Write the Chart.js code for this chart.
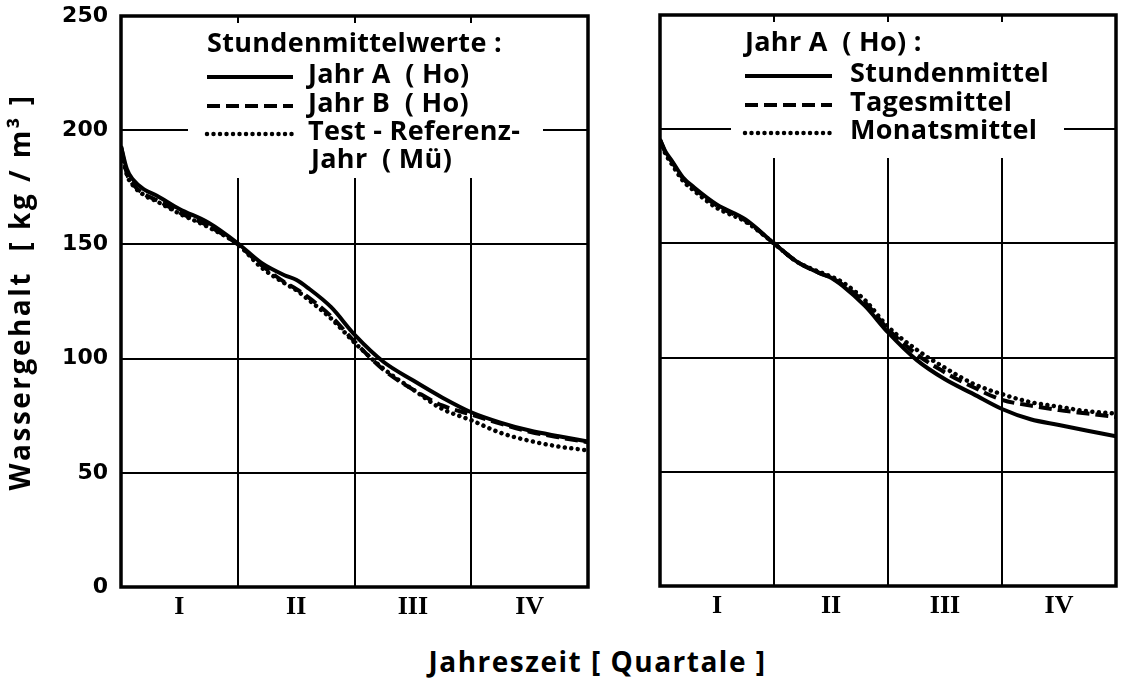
<!DOCTYPE html>
<html>
<head>
<meta charset="utf-8">
<script src="https://cdn.jsdelivr.net/npm/chart.js@4"></script>
<style>
  html, body { margin: 0; padding: 0; background: #fff; }
  body { width: 1121px; height: 679px; position: relative; overflow: hidden; }
  .panel { position: absolute; top: 0; height: 640px; }
  #left { left: 0; width: 620px; }
  #right { left: 620px; width: 501px; }
  #xTitle {
    position: absolute; left: 0; width: 1195px; top: 642px;
    text-align: center; font: 700 28px "Open Sans", sans-serif;
    letter-spacing: 1.5px; color: #000;
  }
</style>
</head>
<body>
<div class="panel" id="left"><canvas id="chartLeft"></canvas></div>
<div class="panel" id="right"><canvas id="chartRight"></canvas></div>
<div id="xTitle">Jahreszeit  [ Quartale ]</div>

<script>
// Jahreszeit in Quartalen (0 = Jahresbeginn, 4 = Jahresende)
const quarterPos = [0, 0.05, 0.1, 0.2, 0.3, 0.5, 0.75, 1.0, 1.2, 1.4, 1.5, 1.6, 1.8, 2.0, 2.25, 2.5, 2.75, 3.0, 3.25, 3.5, 3.75, 4.0];
const quarterLabels = ["I", "II", "III", "IV"];
const yTicks = [0, 50, 100, 150, 200, 250];
const yTitle = "Wassergehalt  [ kg / m³ ]";

// links: Stundenmittelwerte verschiedener Jahre
const jahrA = [193, 183, 178.5, 174, 171.5, 165.5, 159.5, 150.5, 142, 136.5, 134.5, 131, 122.5, 110.5, 98.5, 90.5, 83, 76.5, 72, 68.5, 66, 63.7];
const jahrB = [193, 181, 176.5, 172, 169.5, 164, 158, 150, 141, 133.5, 130.5, 127, 118.5, 107.5, 95, 86.5, 79.5, 75.5, 71.5, 68, 65.5, 63.4];
const testRef = [192, 180.5, 176, 171.5, 169, 163.5, 157.5, 150, 140, 133, 130, 126, 117.5, 107, 95.5, 86.5, 78, 73, 67.5, 64, 61.5, 59.8];

// rechts: Jahr A mit unterschiedlicher Mittelung
const stundenmittel = [195.5, 190, 186.5, 179, 174.5, 167, 160.5, 150, 142, 137, 135, 131.5, 122.5, 111, 99, 90.5, 84, 77.5, 73, 70.5, 68, 65.5];
const tagesmittel = [195.5, 189.5, 186, 178.5, 174, 166.5, 160, 150, 142, 137, 135, 132, 124, 112.5, 101.5, 93.5, 87, 81.5, 79, 77, 75.5, 74];
const monatsmittel = [195, 189, 185, 177.5, 173, 165.5, 159.5, 150, 142, 137.5, 135.5, 133, 125, 113.5, 103.5, 95.5, 88.5, 84, 80.5, 78.5, 76.5, 75.5];

const leftTitle = "Stundenmittelwerte :";
const leftLabels = [["Jahr A  ( Ho)"], ["Jahr B  ( Ho)"], ["Test - Referenz-", "Jahr  ( Mü)"]];
const rightTitle = "Jahr A  ( Ho) :";
const rightLabels = [["Stundenmittel"], ["Tagesmittel"], ["Monatsmittel"]];

const textFont = '700 27px "Open Sans", sans-serif';

const styles = {
  solid: { borderDash: [], borderCapStyle: "butt", borderWidth: 4 },
  dashed: { borderDash: [13, 6], borderCapStyle: "butt", borderWidth: 4 },
  dotted: { borderDash: [0.001, 6.5], borderCapStyle: "round", borderWidth: 4.5 },
};

function series(values, style, label) {
  return {
    label: label,
    data: quarterPos.map((q, i) => ({ x: q, y: values[i] })),
    borderColor: "#000",
    pointRadius: 0,
    fill: false,
    cubicInterpolationMode: "monotone",
    ...styles[style],
  };
}

// weisser Kasten ueber dem Gitter, darin die Legende
const legendBox = {
  id: "legendBox",
  beforeDatasetsDraw(chart, args, opts) {
    const ctx = chart.ctx;
    ctx.save();
    ctx.fillStyle = "#fff";
    ctx.fillRect(opts.box[0], opts.box[1], opts.box[2] - opts.box[0], opts.box[3] - opts.box[1]);
    ctx.fillStyle = "#000";
    ctx.font = textFont;
    ctx.letterSpacing = "0.3px";
    ctx.textBaseline = "middle";
    ctx.fillText(opts.title, opts.x, opts.titleY);
    chart.data.datasets.forEach((ds, i) => {
      const y = opts.rows[i];
      ctx.beginPath();
      ctx.lineWidth = ds.borderWidth;
      ctx.lineCap = ds.borderCapStyle;
      ctx.setLineDash(ds.borderDash);
      ctx.moveTo(opts.x, y + 2);
      ctx.lineTo(opts.sampleEnd, y + 2);
      ctx.stroke();
      ctx.setLineDash([]);
      opts.labels[i].forEach((line, k) => {
        ctx.fillText(line, opts.textX + (k ? 3 : 0), y + k * 28);
      });
    });
    ctx.restore();
  },
};

// dicker Rahmen um das Diagramm, links dazu der gesperrte Achsentitel
const frame = {
  id: "frame",
  afterDraw(chart, args, opts) {
    const a = chart.chartArea;
    const ctx = chart.ctx;
    ctx.save();
    ctx.lineWidth = 3.5;
    ctx.strokeStyle = "#000";
    ctx.strokeRect(a.left, a.top, a.right - a.left, a.bottom - a.top);
    if (opts.title) {
      ctx.translate(22, 292);
      ctx.rotate(-Math.PI / 2);
      ctx.font = '700 28px "Open Sans", sans-serif';
      ctx.letterSpacing = "2.5px";
      ctx.fillStyle = "#000";
      ctx.textAlign = "center";
      ctx.textBaseline = "middle";
      ctx.fillText(opts.title, 0, 0);
    }
    ctx.restore();
  },
};

function makeOptions(side) {
  const isLeft = side === "left";
  return {
    responsive: true,
    maintainAspectRatio: false,
    animation: false,
    layout: { padding: { top: isLeft ? 16 : 15, right: isLeft ? 32 : 1, left: 0, bottom: 0 } },
    plugins: {
      legend: { display: false },
      tooltip: { enabled: false },
      frame: { title: isLeft ? yTitle : "" },
      legendBox: isLeft
        ? { box: [188, 23, 543, 178], x: 207, sampleEnd: 293, textX: 308, title: leftTitle, titleY: 44, rows: [75, 104, 132], labels: leftLabels }
        : { box: [111, 22, 444, 158], x: 125, sampleEnd: 212, textX: 230, title: rightTitle, titleY: 43, rows: [74, 103, 131], labels: rightLabels },
    },
    scales: {
      x: {
        type: "linear",
        min: 0,
        max: 4,
        afterBuildTicks: (scale) => {
          const t = [];
          for (let v = 0; v <= 4; v += 0.5) t.push({ value: v });
          scale.ticks = t;
        },
        afterFit: (scale) => { scale.height = isLeft ? 53 : 54; },
        border: { display: false },
        grid: {
          drawTicks: false,
          lineWidth: 2,
          color: (c) => (c.tick && Number.isInteger(c.tick.value) && c.tick.value > 0 && c.tick.value < 4 ? "#000" : "rgba(0,0,0,0)"),
        },
        ticks: {
          autoSkip: false,
          maxRotation: 0,
          padding: 5,
          color: "#000",
          font: { family: '"Liberation Serif", serif', weight: "bold", size: 26 },
          callback: (v) => (Number.isInteger(v) ? "" : quarterLabels[Math.floor(v)]),
        },
      },
      y: {
        min: 0,
        max: 250,
        afterBuildTicks: (scale) => { scale.ticks = yTicks.map((v) => ({ value: v })); },
        afterFit: (scale) => {
          scale.width = isLeft ? 121 : 40;
          scale.paddingTop = 0;
          scale.paddingBottom = 0;
        },
        border: { display: false },
        grid: {
          drawTicks: false,
          lineWidth: 2,
          color: (c) => (c.tick && c.tick.value > 0 && c.tick.value < 250 ? "#000" : "rgba(0,0,0,0)"),
        },
        ticks: {
          display: isLeft,
          padding: 13,
          color: "#000",
          font: { family: '"DejaVu Sans", sans-serif', weight: "bold", size: 22 },
        },
      },
    },
  };
}

new Chart(document.getElementById("chartLeft"), {
  type: "line",
  data: {
    datasets: [
      series(jahrA, "solid", "Jahr A (Ho)"),
      series(jahrB, "dashed", "Jahr B (Ho)"),
      series(testRef, "dotted", "Test-Referenz-Jahr (Mü)"),
    ],
  },
  options: makeOptions("left"),
  plugins: [legendBox, frame],
});

new Chart(document.getElementById("chartRight"), {
  type: "line",
  data: {
    datasets: [
      series(stundenmittel, "solid", "Stundenmittel"),
      series(tagesmittel, "dashed", "Tagesmittel"),
      series(monatsmittel, "dotted", "Monatsmittel"),
    ],
  },
  options: makeOptions("right"),
  plugins: [legendBox, frame],
});
</script>
</body>
</html>
